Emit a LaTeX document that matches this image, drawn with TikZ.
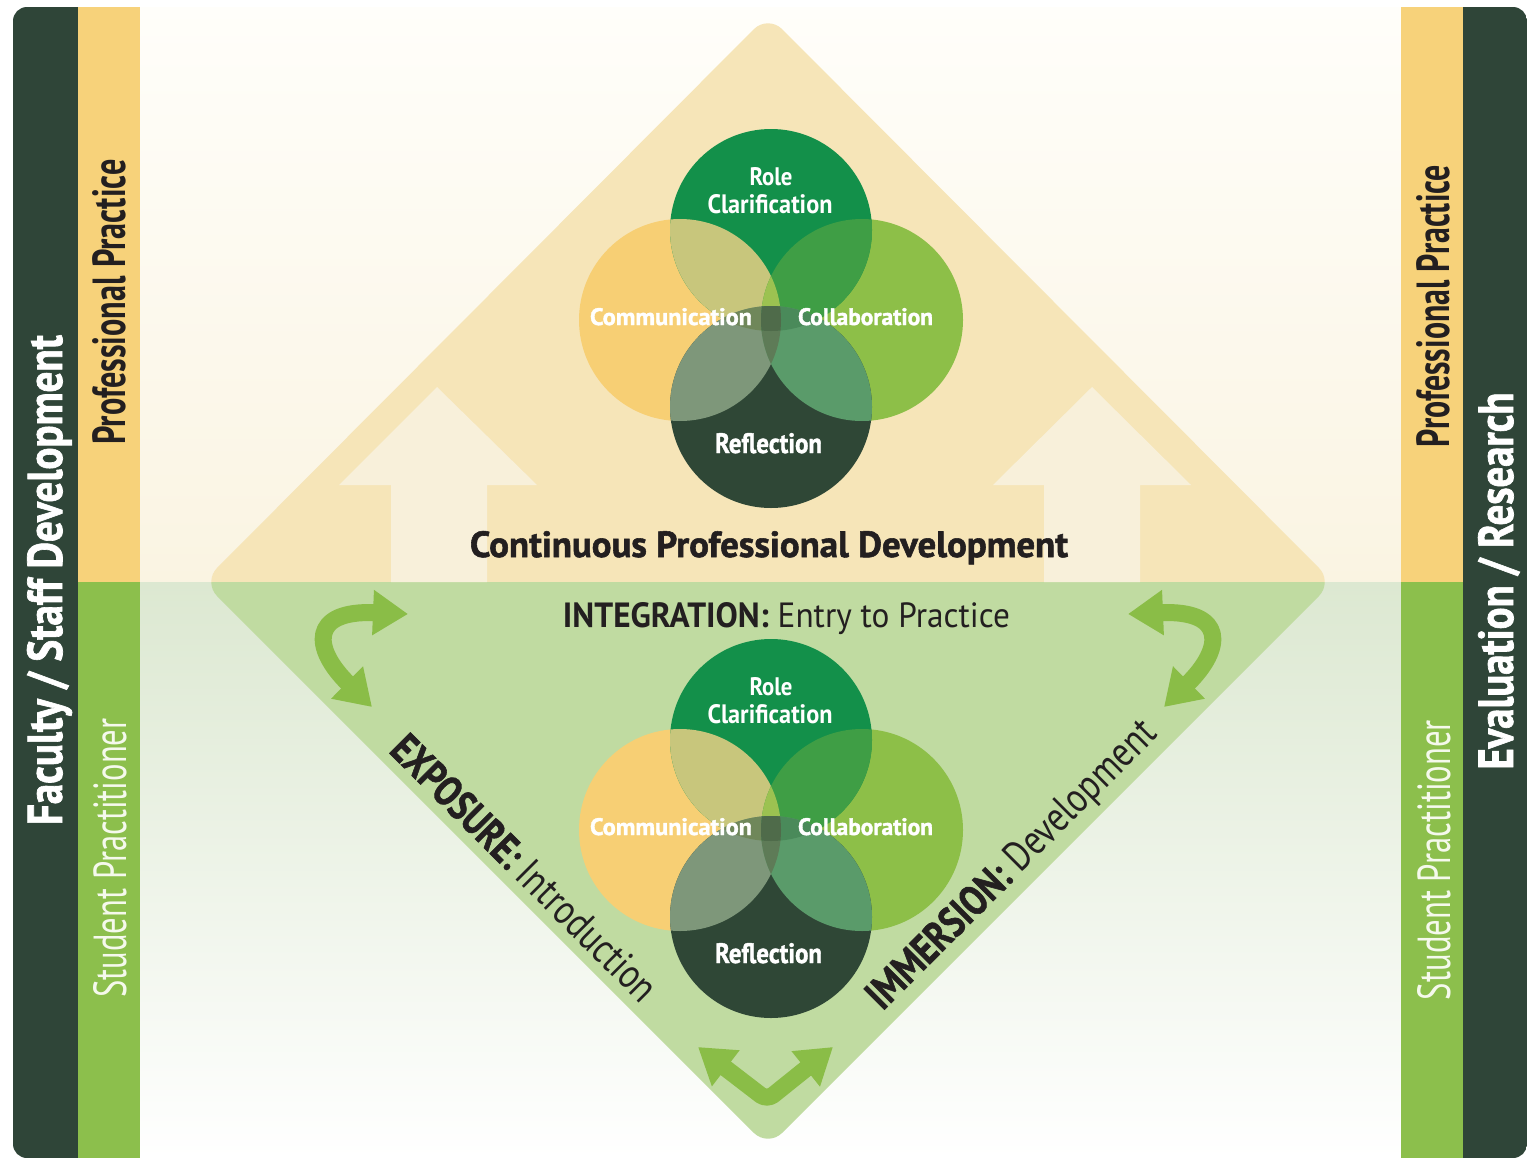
\documentclass[tikz,border=0pt]{standalone}
\usepackage{fontspec}
\setmainfont{PT Sans}
\newfontfamily\heavyfont{PT Sans}[UprightFont=* Bold, FakeBold=1.5]
\usepackage{graphicx}
\usetikzlibrary{arrows.meta}
\definecolor{darkstrip}{HTML}{2F4538}
\definecolor{yellowstrip}{HTML}{F7D27A}
\definecolor{greenstrip}{HTML}{8CBF4C}
\definecolor{diamondY}{HTML}{F6E5B8}
\definecolor{diamondG}{HTML}{C0DBA1}
\definecolor{arrowcream}{HTML}{F8F0DA}
\definecolor{bgTa}{HTML}{FFFEFA}
\definecolor{bgTb}{HTML}{FAF4E2}
\definecolor{bgLa}{HTML}{DCE8D1}
\definecolor{arrowgreen}{HTML}{8ABD47}
\definecolor{textdark}{HTML}{231F20}
\definecolor{lighttext}{HTML}{F5F9EC}
\definecolor{cT}{HTML}{13904A}
\definecolor{cL}{HTML}{F7CF74}
\definecolor{cR}{HTML}{8DBF48}
\definecolor{cB}{HTML}{2F4736}
\definecolor{cTL}{HTML}{C8C67C}
\definecolor{cTR}{HTML}{3F9E45}
\definecolor{cBL}{HTML}{7E977A}
\definecolor{cBR}{HTML}{5A9B6A}
\definecolor{cTLR}{HTML}{9CC251}
\definecolor{cBLR}{HTML}{5E7B57}
\definecolor{cTBL}{HTML}{6F875A}
\definecolor{cTBR}{HTML}{4A8A5A}
\definecolor{cALL}{HTML}{4F6B4A}
\tikzset{
  lbl/.style={inner sep=0pt, anchor=base},
  vlbl/.style={inner sep=0pt, anchor=base, text=white, font=\bfseries},
  garrow/.style={draw=arrowgreen, line width=17pt, line join=round,
    arrows={Triangle[length=35pt,width=43pt]-Triangle[length=35pt,width=43pt]}},
}
\def\cirT{(771,230) circle[radius=101pt]}
\def\cirL{(680,320) circle[radius=101pt]}
\def\cirR{(862,320) circle[radius=101pt]}
\def\cirB{(771,407) circle[radius=101pt]}
\newcommand\vennset[2]{%
\begin{scope}[shift={(0,#1)}]
  \fill[cL] \cirL; \fill[cR] \cirR; \fill[cT] \cirT; \fill[cB] \cirB;
  \begin{scope}\clip \cirT; \fill[cTL] \cirL; \fill[cTR] \cirR; \end{scope}
  \begin{scope}\clip \cirB; \fill[cBL] \cirL; \fill[cBR] \cirR; \end{scope}
  \begin{scope}\clip \cirL; \clip \cirR; \fill[cTLR] \cirT; \fill[cBLR] \cirB; \end{scope}
  \begin{scope}\clip \cirT; \clip \cirB; \fill[cTBL] \cirL; \fill[cTBR] \cirR; \end{scope}
  \begin{scope}\clip \cirT; \clip \cirB; \clip \cirL; \fill[cALL] \cirR; \end{scope}
  \node[vlbl] (#2role) at (771,185) {\resizebox{43pt}{18pt}{Role}};
  \node[vlbl] (#2clar) at (770,213) {\resizebox{125pt}{19pt}{Clarification}};
  \node[vlbl] (#2comm) at (671,325) {\resizebox{162pt}{17pt}{\heavyfont Communication}};
  \node[vlbl] (#2coll) at (865.5,325) {\resizebox{135pt}{17pt}{\heavyfont Collaboration}};
  \node[vlbl] (#2refl) at (768.5,453) {\resizebox{107pt}{20pt}{\heavyfont Reflection}};
\end{scope}}
\begin{document}
\begin{tikzpicture}[x=1pt,y=-1pt]
\useasboundingbox (0,0) rectangle (1528,1159);
\fill[white] (0,0) rectangle (1528,1159);
\begin{scope}
  \clip[rounded corners=14pt] (13,7) rectangle (1527,1158);
  \shade[top color=bgTa, bottom color=bgTb] (140,7) rectangle (1401,582);
  \shade[top color=bgLa, bottom color=white] (140,582) rectangle (1401,1158);
  \fill[darkstrip] (13,7) rectangle (78,1158);
  \fill[yellowstrip] (78,7) rectangle (140,582);
  \fill[greenstrip] (78,582) rectangle (140,1158);
  \fill[yellowstrip] (1401,7) rectangle (1463,582);
  \fill[greenstrip] (1401,582) rectangle (1463,1158);
  \fill[darkstrip] (1463,7) rectangle (1527,1158);
\end{scope}
% diamond
\begin{scope}
  \clip (140,0) rectangle (1401,582);
  \fill[diamondY, rounded corners=20pt] (768,15) -- (1333,582) -- (768,1147) -- (203,582) -- cycle;
\end{scope}
\begin{scope}
  \clip (140,582) rectangle (1401,1159);
  \fill[diamondG, rounded corners=20pt] (768,15) -- (1333,582) -- (768,1147) -- (203,582) -- cycle;
\end{scope}
% up arrows
\fill[arrowcream] (437,387) -- (537,485) -- (487,485) -- (487,582) -- (391,582) -- (391,485) -- (339,485) -- cycle;
\fill[arrowcream] (1092,387) -- (1191,485) -- (1140,485) -- (1140,582) -- (1044,582) -- (1044,485) -- (993,485) -- cycle;
% venns
\vennset{0}{u}
\vennset{510}{l}
% side texts
\node[lbl, text=white, rotate=90] (fsd) at (62,580) {\resizebox{490pt}{35pt}{\heavyfont Faculty / Staff Development}};
\node[lbl, text=textdark, rotate=90] (ppl) at (125,302) {\resizebox{285pt}{33pt}{\bfseries Professional Practice}};
\node[lbl, text=lighttext, rotate=90] (spl) at (126,858) {\resizebox{279pt}{33pt}{Student Practitioner}};
\node[lbl, text=textdark, rotate=90] (ppr) at (1449,306) {\resizebox{282pt}{33pt}{\bfseries Professional Practice}};
\node[lbl, text=lighttext, rotate=90] (spr) at (1450,860) {\resizebox{280pt}{33pt}{Student Practitioner}};
\node[lbl, text=white, rotate=90] (evr) at (1513,581) {\resizebox{377pt}{35pt}{\heavyfont Evaluation / Research}};
% centre texts
\node[lbl, text=textdark] (cpd) at (769,557) {\resizebox{598pt}{26pt}{\heavyfont Continuous Professional Development}};
\node[lbl, text=textdark] (integ) at (786.5,627) {\resizebox{447pt}{25pt}{\textbf{INTEGRATION:} Entry to Practice}};
\node[inner sep=0pt, text=textdark, rotate=-45] (expo) at (525,868) {\resizebox{358pt}{30pt}{{\heavyfont EXPOSURE:} Introduction}};
\node[inner sep=0pt, text=textdark, rotate=45] (imme) at (1013,866) {\resizebox{390pt}{30pt}{{\heavyfont IMMERSION:} Development}};
% curved arrows
\coordinate (lA) at (372,707); \coordinate (lB) at (408,614);
\draw[garrow] (lA) .. controls (312,648) and (310,610) .. (lB);
\coordinate (rA) at (1164,707); \coordinate (rB) at (1128,614);
\draw[garrow] (rA) .. controls (1224,648) and (1226,610) .. (rB);
\coordinate (bA) at (698,1047); \coordinate (bV) at (767,1100); \coordinate (bB) at (833,1047);
\draw[garrow, rounded corners=8pt] (bA) -- (bV) -- (bB);
\end{tikzpicture}
\end{document}
